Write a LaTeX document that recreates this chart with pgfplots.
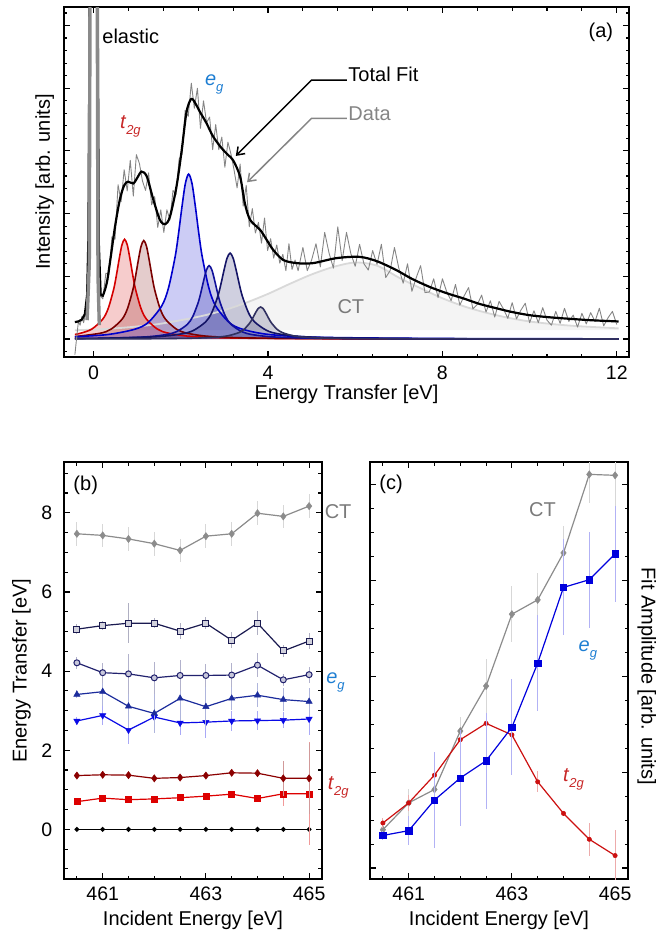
\documentclass[border=0pt]{standalone}
\usepackage{fontspec}
\setmainfont{Liberation Sans}
\usepackage{pgfplots}
\pgfplotsset{compat=1.18}
\usepackage{pgfplotstable}
\usetikzlibrary{arrows.meta}

\definecolor{cRed}{HTML}{D40000}
\definecolor{cDRed}{HTML}{7A0000}
\definecolor{cBlue}{HTML}{0000CC}
\definecolor{cMBlue}{HTML}{10109A}
\definecolor{cNavy}{HTML}{141466}
\definecolor{cDNavy}{HTML}{303060}
\definecolor{cCT}{HTML}{D9D9D9}
\definecolor{cCTfill}{HTML}{F4F4F4}
\definecolor{cData}{HTML}{858585}
\definecolor{cElastic}{HTML}{8A8A8A}
\definecolor{labRed}{HTML}{C82828}
\definecolor{labBlue}{HTML}{1E7ED2}
\definecolor{labGray}{HTML}{7A7A7A}
% bottom panel colours
\definecolor{bCT}{HTML}{8C8C8C}
\definecolor{bSq}{HTML}{1A1A50}
\definecolor{bCi}{HTML}{22226E}
\definecolor{bTu}{HTML}{1C2C9C}
\definecolor{bTd}{HTML}{0A0AE6}
\definecolor{bDR}{HTML}{8B0000}
\definecolor{bR}{HTML}{DD0000}
\definecolor{cEG}{HTML}{0000DD}
\definecolor{cTG}{HTML}{CC1010}

\newcommand{\sub}[1]{\raisebox{-6pt}{\fontsize{13}{14}\selectfont\itshape #1}}

\pgfplotsset{
  myaxis/.style={
    scale only axis,
    clip mode=individual,
    tick align=inside,
    tick pos=both,
    xticklabel pos=lower, yticklabel pos=left,
    axis line style={line width=1.8pt},
    tick style={line width=1.1pt, black},
    major tick length=6pt, minor tick length=3.5pt,
    tick label style={font=\fontsize{19.5}{22}\selectfont},
    label style={font=\fontsize{20}{24}\selectfont},
    /pgf/number format/assume math mode=true,
  },
}

% ---------- top panel data ----------
\pgfplotstableread{
x y
-0.43 0.073
-0.29 0.094
-0.04 0.159
0.21 0.318
0.335 0.489
0.46 0.795
0.5225 1.018
0.585 1.272
0.6475 1.497
0.71 1.59
0.7725 1.497
0.835 1.272
0.8975 1.018
0.96 0.795
1.085 0.489
1.21 0.318
1.46 0.159
1.71 0.094
2.21 0.043
3.21 0.016
5.71 0.004
12.04 0.001
}\pkA

\pgfplotstableread{
x y
-0.43 0.038
0.15 0.092
0.40 0.157
0.65 0.314
0.775 0.483
0.90 0.785
0.9625 1.005
1.025 1.256
1.0875 1.478
1.15 1.57
1.2125 1.478
1.275 1.256
1.3375 1.005
1.40 0.785
1.525 0.483
1.65 0.314
1.90 0.157
2.15 0.092
2.65 0.042
3.65 0.016
6.15 0.004
12.04 0.001
}\pkB

\pgfplotstableread{
x y
-0.43 0.037
0.32 0.071
0.94 0.155
1.25 0.263
1.56 0.526
1.715 0.809
1.87 1.315
1.9475 1.683
2.025 2.104
2.1025 2.475
2.18 2.63
2.2575 2.475
2.335 2.104
2.4125 1.683
2.49 1.315
2.645 0.809
2.80 0.526
3.11 0.263
3.42 0.155
4.04 0.071
5.28 0.026
8.38 0.007
12.04 0.003
}\pkC

\pgfplotstableread{
x y
-0.43 0.008
0.15 0.012
1.15 0.032
1.65 0.069
1.90 0.117
2.15 0.234
2.275 0.360
2.40 0.585
2.4625 0.749
2.525 0.936
2.5875 1.101
2.65 1.17
2.7125 1.101
2.775 0.936
2.8375 0.749
2.90 0.585
3.025 0.360
3.15 0.234
3.40 0.117
3.65 0.069
4.15 0.032
5.15 0.012
7.65 0.003
12.04 0.001
}\pkD

\pgfplotstableread{
x y
-0.43 0.008
0.33 0.014
1.45 0.037
2.01 0.081
2.29 0.137
2.57 0.274
2.71 0.422
2.85 0.685
2.92 0.877
2.99 1.096
3.06 1.289
3.13 1.37
3.20 1.289
3.27 1.096
3.34 0.877
3.41 0.685
3.55 0.422
3.69 0.274
3.97 0.137
4.25 0.081
4.81 0.037
5.93 0.014
8.73 0.003
12.04 0.001
}\pkE

\pgfplotstableread{
x y
-0.43 0.002
1.33 0.005
2.33 0.014
2.83 0.030
3.08 0.051
3.33 0.102
3.455 0.157
3.58 0.255
3.6425 0.326
3.705 0.408
3.7675 0.480
3.83 0.51
3.8925 0.480
3.955 0.408
4.0175 0.326
4.08 0.255
4.205 0.157
4.33 0.102
4.58 0.051
4.83 0.030
5.33 0.014
6.33 0.005
8.83 0.001
12.04 0.0003
}\pkF

\pgfplotstableread{
x y
-0.43 0.14
0.0 0.15
0.5 0.17
1.0 0.20
1.5 0.24
2.0 0.30
2.5 0.37
3.0 0.46
3.5 0.58
4.0 0.72
4.5 0.88
5.0 1.03
5.5 1.15
6.0 1.22
6.5 1.17
7.0 0.98
7.5 0.81
8.0 0.65
8.5 0.52
9.0 0.42
9.5 0.34
10.0 0.28
10.5 0.24
11.0 0.21
11.5 0.19
12.04 0.17
}\ctcurve

\pgfplotstableread{
x y
0.16 0.72
0.21 0.69
0.30 0.89
0.37 1.20
0.49 1.79
0.60 2.22
0.70 2.45
0.79 2.51
0.91 2.48
1.00 2.57
1.10 2.67
1.22 2.59
1.37 2.22
1.52 1.90
1.64 1.83
1.75 1.95
1.90 2.43
2.02 3.01
2.13 3.62
2.24 3.83
2.34 3.75
2.44 3.62
2.59 3.44
2.74 3.23
2.94 3.04
3.09 2.93
3.20 2.85
3.36 2.59
3.47 2.16
3.59 1.90
3.82 1.74
3.97 1.58
4.12 1.42
4.35 1.26
4.66 1.21
5.03 1.21
5.57 1.29
6.10 1.31
6.50 1.24
6.94 1.10
7.30 0.96
7.71 0.83
8.10 0.73
8.47 0.65
8.85 0.56
9.24 0.49
9.60 0.43
10.00 0.38
10.40 0.35
10.76 0.33
11.40 0.30
12.04 0.28
}\totfit

\pgfplotstableread{
x y
-0.43 -0.25
-0.39 0.02
-0.35 0.28
-0.31 0.22
-0.27 0.36
-0.23 0.26
-0.19 0.40
-0.15 0.33
-0.12 0.9
-0.09 5
-0.08 8
0.08 8
0.09 5
0.11 0.5
0.14 0.70
0.21 0.64
0.28 1.05
0.35 1.03
0.42 1.63
0.49 1.59
0.56 2.46
0.63 2.19
0.70 2.70
0.77 2.36
0.84 2.85
0.91 2.28
0.98 2.94
1.05 2.80
1.12 2.52
1.19 2.37
1.26 2.65
1.33 2.14
1.40 2.27
1.47 1.78
1.54 2.06
1.61 1.70
1.68 2.06
1.75 1.90
1.82 2.37
1.89 2.30
1.96 2.87
2.03 2.95
2.10 3.65
2.17 3.55
2.24 4.08
2.31 3.68
2.38 4.00
2.45 3.36
2.52 3.80
2.59 3.45
2.66 3.54
2.73 3.02
2.80 3.42
2.87 3.02
2.94 3.22
3.01 2.74
3.08 3.14
3.15 2.95
3.22 2.70
3.29 2.41
3.36 2.79
3.43 2.12
3.50 2.45
3.57 1.79
3.64 2.08
3.71 1.69
3.78 1.86
3.85 1.53
3.92 1.93
3.99 1.41
4.06 1.60
4.13 1.29
4.20 1.50
4.27 1.21
4.34 1.35
4.41 1.09
4.48 1.52
4.55 1.11
4.62 1.26
4.69 1.09
4.8 1.46
4.9 1.09
5.0 1.26
5.1 1.52
5.2 1.15
5.3 1.70
5.4 1.37
5.5 1.13
5.6 1.79
5.7 1.25
5.8 1.70
5.9 1.36
6.0 1.16
6.1 1.51
6.2 1.20
6.3 1.10
6.4 1.41
6.5 1.19
6.6 1.51
6.7 0.98
6.8 1.09
6.9 1.46
7.0 1.13
7.1 0.89
7.2 1.20
7.3 0.76
7.4 0.98
7.5 1.17
7.6 0.74
7.7 0.75
7.8 0.96
7.9 0.66
8.0 0.96
8.1 0.75
8.2 0.61
8.3 0.87
8.4 0.54
8.5 0.69
8.6 0.82
8.7 0.48
8.8 0.55
8.9 0.70
9.0 0.43
9.1 0.61
9.2 0.35
9.3 0.60
9.4 0.48
9.5 0.33
9.6 0.58
9.7 0.32
9.8 0.46
9.9 0.57
10.0 0.26
10.1 0.45
10.2 0.26
10.3 0.50
10.4 0.30
10.5 0.22
10.6 0.44
10.7 0.25
10.8 0.49
10.9 0.28
11.0 0.38
11.1 0.19
11.2 0.41
11.3 0.24
11.4 0.42
11.5 0.28
11.6 0.49
11.7 0.21
11.8 0.34
11.9 0.44
12.0 0.23
}\dataA

% ---------- panel (b) ----------
\pgfplotstableread{
x ct ect sq esq ci eci tu etu td etd dr edr rs ers z
460.5 7.47 0.3 5.06 0.12 4.21 0.15 3.41 0.10 2.74 0.10 1.36 0.05 0.70 0.05 0
461.0 7.43 0.3 5.15 0.12 3.96 0.25 3.48 0.35 2.88 0.25 1.38 0.05 0.79 0.05 0
461.5 7.34 0.3 5.21 0.50 3.93 0.50 3.11 0.55 2.51 0.35 1.37 0.05 0.75 0.05 0
462.0 7.22 0.3 5.21 0.12 3.83 0.40 2.93 0.50 2.84 0.40 1.29 0.05 0.77 0.05 0
462.5 7.05 0.3 5.01 0.20 3.89 0.40 3.31 0.55 2.69 0.30 1.31 0.05 0.80 0.05 0
463.0 7.41 0.3 5.21 0.15 3.89 0.30 3.10 0.50 2.71 0.40 1.36 0.05 0.84 0.05 0
463.5 7.47 0.3 4.78 0.20 3.90 0.30 3.31 0.30 2.74 0.25 1.43 0.05 0.89 0.05 0
464.0 7.99 0.3 5.21 0.30 4.15 0.30 3.39 0.30 2.75 0.25 1.42 0.05 0.78 0.05 0
464.5 7.91 0.3 4.51 0.15 3.78 0.15 3.28 0.30 2.76 0.20 1.29 0.45 0.90 0.30 0
465.0 8.17 0.3 4.76 0.20 3.91 0.20 3.23 0.35 2.79 0.40 1.29 0.90 0.90 1.30 0
}\tabB

% ---------- panel (c) ----------
\pgfplotstableread{
x ct ect eg eeg tg etg
460.5 0.40 0.05 0.34 0.05 0.47 0.05
461.0 0.68 0.14 0.39 0.15 0.68 0.08
461.5 0.82 0.10 0.71 0.50 0.97 0.10
462.0 1.43 0.15 0.94 0.50 1.34 0.05
462.5 1.90 0.28 1.12 0.50 1.51 0.11
463.0 2.65 0.29 1.47 0.50 1.39 0.08
463.5 2.80 0.28 2.14 0.50 0.90 0.11
464.0 3.29 0.28 2.93 0.50 0.57 0.03
464.5 4.11 0.30 3.01 0.50 0.30 0.17
465.0 4.10 0.50 3.28 0.50 0.13 0.27
}\tabC

\begin{document}
\begin{tikzpicture}[font=\fontsize{20}{24}\selectfont]
\useasboundingbox (0pt,0pt) rectangle (660pt,-932pt);

% ================= (a) =================
\begin{axis}[myaxis,
  at={(64pt,-357pt)}, anchor=south west,
  width=565pt, height=350pt,
  xmin=-0.68, xmax=12.28, ymin=-0.287, ymax=5.295,
  xtick={0,4,8,12},
  minor xtick={0.8,1.6,2.4,3.2,4.8,5.6,6.4,7.2,8.8,9.6,10.4,11.2},
  ytick={0,1,2,3,4,5}, yticklabels={},
  minor ytick={-0.2,0.2,0.4,0.6,0.8,1.2,1.4,1.6,1.8,2.2,2.4,2.6,2.8,3.2,3.4,3.6,3.8,4.2,4.4,4.6,4.8,5.2},
  xticklabel style={anchor=base, inner sep=0pt, yshift=-22.3pt},
  xlabel={Energy Transfer [eV]},
  ylabel={Intensity [arb. units]},
  xlabel style={at={(axis description cs:0.5,-0.12)}, anchor=base, inner sep=0pt},
  ylabel style={at={(axis description cs:-0.0248,0.5)}, anchor=base, inner sep=0pt},
]
% CT background fill
\addplot[draw=none, fill=cCTfill] coordinates {
(-0.43,0.14)(0.0,0.15)(0.5,0.17)(1.0,0.20)(1.5,0.24)(2.0,0.30)(2.5,0.37)(3.0,0.46)(3.5,0.58)(4.0,0.72)(4.5,0.88)(5.0,1.03)(5.5,1.15)(6.0,1.22)(6.5,1.17)(7.0,0.98)(7.5,0.81)(8.0,0.65)(8.5,0.52)(9.0,0.42)(9.5,0.34)(10.0,0.28)(10.5,0.24)(11.0,0.21)(11.5,0.19)(12.04,0.17)(12.04,0.14)(-0.43,0.14)};
% peak fills
\addplot[smooth, draw=none, fill=cRed, fill opacity=0.2] table {\pkA} \closedcycle;
\addplot[smooth, draw=none, fill=cDRed, fill opacity=0.2] table {\pkB} \closedcycle;
\addplot[smooth, draw=none, fill=cBlue, fill opacity=0.2] table {\pkC} \closedcycle;
\addplot[smooth, draw=none, fill=cMBlue, fill opacity=0.22] table {\pkD} \closedcycle;
\addplot[smooth, draw=none, fill=cNavy, fill opacity=0.2] table {\pkE} \closedcycle;
\addplot[smooth, draw=none, fill=cDNavy, fill opacity=0.2] table {\pkF} \closedcycle;
% CT line
\addplot[smooth, cCT, line width=1.8pt] table {\ctcurve};
% peak lines
\addplot[smooth, cRed, line width=1.6pt] table {\pkA};
\addplot[smooth, cDRed, line width=1.6pt] table {\pkB};
\addplot[smooth, cBlue, line width=1.6pt] table {\pkC};
\addplot[smooth, cMBlue, line width=1.6pt] table {\pkD};
\addplot[smooth, cNavy, line width=1.6pt] table {\pkE};
\addplot[smooth, cDNavy, line width=1.6pt] table {\pkF};
% data
\addplot[cData, line width=0.9pt, line join=round] table {\dataA};
% total fit
\addplot[black, line width=2.2pt, line join=round] coordinates {
(-0.43,0.27)(-0.35,0.28)(-0.27,0.31)(-0.20,0.40)(-0.15,0.70)(-0.12,1.6)(-0.095,5)(-0.085,8)(0.085,8)(0.095,5)(0.12,1.5)(0.16,0.72)};
\addplot[smooth, black, line width=2.2pt] table {\totfit};
% elastic
\addplot[cElastic, line width=3.4pt] coordinates {
(-0.15,0.30)(-0.10,1.2)(-0.085,5)(-0.08,8)(0.08,8)(0.085,5)(0.10,1.0)(0.13,0.22)};
% annotations
\node[anchor=base west, inner sep=0pt] at (axis cs:0.197,4.705) {elastic};
\node[anchor=base west, inner sep=0pt] at (axis cs:5.84,4.10) {Total Fit};
\node[anchor=base west, inner sep=0pt, text=cData] at (axis cs:5.84,3.49) {Data};
\node[anchor=base west, inner sep=0pt] at (axis cs:11.35,4.81) {(a)};
\node[anchor=base west, inner sep=0pt, text=labGray] at (axis cs:5.59,0.41) {CT};
\node[anchor=base west, inner sep=0pt, text=labRed] at (axis cs:0.60,3.36) {\textit{t}\sub{2g}};
\node[anchor=base west, inner sep=0pt, text=labBlue] at (axis cs:2.55,4.05) {\textit{e}\sub{g}};
\draw[black, line width=1.5pt, -{Straight Barb[length=7pt,width=10pt]}]
  (axis cs:5.81,4.13) -- (axis cs:5.00,4.13) -- (axis cs:3.26,2.92);
\draw[cData, line width=1.5pt, -{Straight Barb[length=7pt,width=10pt]}]
  (axis cs:5.81,3.52) -- (axis cs:5.00,3.52) -- (axis cs:3.52,2.50);
\end{axis}

% ================= (b) =================
\begin{axis}[myaxis,
  at={(64pt,-879.3pt)}, anchor=south west,
  width=258pt, height=417pt,
  xmin=460.25, xmax=465.25, ymin=-1.262, ymax=9.277,
  xtick={461,463,465},
  minor xtick={460.5,461.5,462,462.5,463.5,464,464.5},
  ytick={0,2,4,6,8},
  minor ytick={-1,-0.5,0.5,1,1.5,2.5,3,3.5,4.5,5,5.5,6.5,7,7.5,8.5,9},
  xticklabel style={anchor=base, inner sep=0pt, yshift=-21.4pt},
  yticklabel style={anchor=east, inner sep=0pt, xshift=-11.7pt},
  xlabel={Incident Energy [eV]},
  ylabel={Energy Transfer [eV]},
  xlabel style={at={(axis description cs:0.5,-0.1096)}, anchor=base, inner sep=0pt},
  ylabel style={at={(axis description cs:-0.1446,0.5)}, anchor=base, inner sep=0pt},
  error bars/error mark=none,
]
\addplot[black, line width=1.2pt, mark=*, mark size=1.8pt] table[x=x,y=z] {\tabB};
\addplot[bR, line width=1.2pt, mark=square*, mark size=3pt, mark options={line width=0.5pt},
  error bars/.cd, y dir=both, y explicit, error bar style={line width=1.1pt, bR!40}]
  table[x=x,y=rs,y error=ers] {\tabB};
\addplot[bDR, line width=1.2pt, mark=diamond*, mark size=3.6pt, mark options={line width=0.5pt},
  error bars/.cd, y dir=both, y explicit, error bar style={line width=1.1pt, bDR!40}]
  table[x=x,y=dr,y error=edr] {\tabB};
\addplot[bTd, line width=1.2pt, mark=triangle*, mark size=3.6pt, mark options={rotate=180, line width=0.5pt},
  error bars/.cd, y dir=both, y explicit, error bar style={line width=1.1pt, bTd!35}]
  table[x=x,y=td,y error=etd] {\tabB};
\addplot[bTu, line width=1.2pt, mark=triangle*, mark size=3.6pt, mark options={line width=0.5pt},
  error bars/.cd, y dir=both, y explicit, error bar style={line width=1.1pt, bTu!35}]
  table[x=x,y=tu,y error=etu] {\tabB};
\addplot[bCi, line width=1.2pt, mark=*, mark size=3pt, mark options={fill=bCi!25, line width=1pt},
  error bars/.cd, y dir=both, y explicit, error bar style={line width=1.1pt, bCi!35}]
  table[x=x,y=ci,y error=eci] {\tabB};
\addplot[bSq, line width=1.2pt, mark=square*, mark size=3pt, mark options={fill=bSq!20, line width=1pt},
  error bars/.cd, y dir=both, y explicit, error bar style={line width=1.1pt, bSq!35}]
  table[x=x,y=sq,y error=esq] {\tabB};
\addplot[bCT, line width=1.2pt, mark=diamond*, mark size=3.6pt, mark options={line width=0.5pt},
  error bars/.cd, y dir=both, y explicit, error bar style={line width=1.1pt, bCT!35}]
  table[x=x,y=ct,y error=ect] {\tabB};
\node[anchor=base west, inner sep=0pt] at (axis cs:460.43,8.57) {(b)};
\node[anchor=base west, inner sep=0pt, text=labGray] at (axis cs:465.30,7.85) {CT};
\node[anchor=base west, inner sep=0pt, text=labBlue] at (axis cs:465.33,3.69) {\textit{e}\sub{g}};
\node[anchor=base west, inner sep=0pt, text=labRed] at (axis cs:465.36,1.02) {\textit{t}\sub{2g}};
\end{axis}

% ================= (c) =================
\begin{axis}[myaxis,
  at={(370pt,-879.3pt)}, anchor=south west,
  width=258pt, height=417pt,
  xmin=460.25, xmax=465.25, ymin=-0.118, ymax=4.236,
  xtick={461,463,465},
  minor xtick={460.5,461.5,462,462.5,463.5,464,464.5},
  ytick={0,1,2,3,4}, yticklabels={},
  minor ytick={0.25,0.5,0.75,1.25,1.5,1.75,2.25,2.5,2.75,3.25,3.5,3.75},
  xticklabel style={anchor=base, inner sep=0pt, yshift=-21.4pt},
  xlabel={Incident Energy [eV]},
  ylabel={Fit Amplitude [arb. units]},
  xlabel style={at={(axis description cs:0.5,-0.1096)}, anchor=base, inner sep=0pt},
  ylabel style={at={(axis description cs:1.0531,0.4868)}, anchor=base, inner sep=0pt, rotate=180},
  error bars/error mark=none,
]
\addplot[bCT, line width=1.2pt, mark=diamond*, mark size=3.6pt, mark options={line width=0.5pt},
  error bars/.cd, y dir=both, y explicit, error bar style={line width=1.1pt, bCT!35}]
  table[x=x,y=ct,y error=ect] {\tabC};
\addplot[cTG, line width=1.2pt, mark=*, mark size=2.2pt, mark options={line width=0.5pt},
  error bars/.cd, y dir=both, y explicit, error bar style={line width=1.1pt, cTG!35}]
  table[x=x,y=tg,y error=etg] {\tabC};
\addplot[cEG, line width=1.2pt, mark=square*, mark size=3.2pt, mark options={line width=0.5pt},
  error bars/.cd, y dir=both, y explicit, error bar style={line width=1.1pt, cEG!30}]
  table[x=x,y=eg,y error=eeg] {\tabC};
\node[anchor=base west, inner sep=0pt] at (axis cs:460.43,3.95) {(c)};
\node[anchor=base west, inner sep=0pt, text=labGray] at (axis cs:463.33,3.67) {CT};
\node[anchor=base west, inner sep=0pt, text=labBlue] at (axis cs:464.29,2.26) {\textit{e}\sub{g}};
\node[anchor=base west, inner sep=0pt, text=labRed] at (axis cs:463.99,0.90) {\textit{t}\sub{2g}};
\end{axis}
\end{tikzpicture}
\end{document}
